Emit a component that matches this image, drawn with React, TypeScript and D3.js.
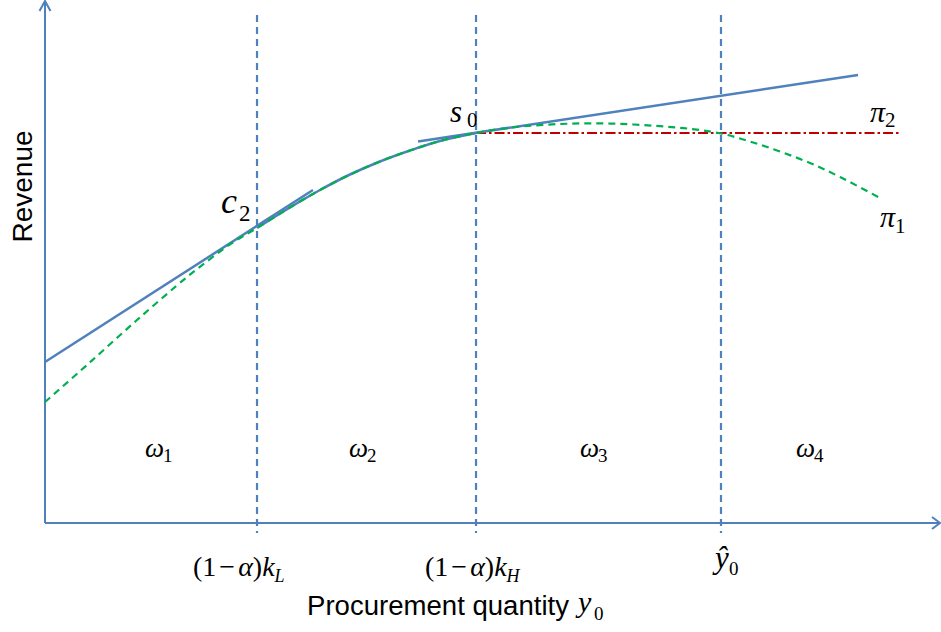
import React from "react";
import * as d3 from "d3";

// ---- data (x: procurement quantity units 0..100, y: revenue units 0..100) ----
const revenueLineLeftX = [0, 29.94];
const revenueLineLeftY = [30.9, 63.92];
const revenueCurveX = [23.69, 27.37, 30.73, 34.08, 37.43, 40.78, 44.13, 48.16];
const revenueCurveY = [56.62, 60.56, 63.92, 66.89, 69.39, 71.5, 73.32, 74.86];
const revenueLineRightX = [41.68, 90.84];
const revenueLineRightY = [73.22, 85.99];

const pi1X = [0, 4.69, 10.28, 15.87, 18.44, 20.89, 23.69, 27.37, 30.73, 34.08, 37.43, 40.78, 44.13, 48.16, 50.84, 53.85, 57.54, 61.23, 65.03, 68.72, 72.07, 75.53, 78.77, 82.12, 85.47, 88.83, 93.3];
const pi1Y = [23.22, 30.33, 38.96, 47.22, 50.67, 53.74, 56.62, 60.56, 63.92, 66.89, 69.39, 71.5, 73.32, 74.86, 75.62, 76.2, 76.58, 76.72, 76.55, 76.16, 75.66, 74.76, 73.22, 71.31, 69.1, 66.41, 62.38];

const pi2X = [48.16, 95.53];
const pi2Y = [74.86, 74.86];

const boundaryX = [23.69, 48.16, 75.53];
const regionLabelX = [11.17, 33.97, 59.78, 83.9];
const regionSubs = ["1", "2", "3", "4"];

const BLUE = "#4F81BD";
const GREEN = "#00B050";
const RED = "#C00000";
const SERIF = "'Liberation Serif', 'Times New Roman', serif";
const SANS = "'Liberation Sans', Arial, sans-serif";

const W = 941;
const H = 632;

const x = d3.scaleLinear().domain([0, 100]).range([45, 940]);
const y = d3.scaleLinear().domain([0, 100]).range([523, 2]);

const zip = (xs: number[], ys: number[]) => xs.map((v, i) => [v, ys[i]] as [number, number]);

const straight = d3.line<[number, number]>().x((d) => x(d[0])).y((d) => y(d[1]));
const smooth = d3
  .line<[number, number]>()
  .x((d) => x(d[0]))
  .y((d) => y(d[1]))
  .curve(d3.curveCatmullRom.alpha(0.5));

export default function App() {
  const x0 = x(0);
  const y0 = y(0);
  return (
    <svg
      width={W}
      height={H}
      viewBox={`0 0 ${W} ${H}`}
      style={{ position: "absolute", left: 0, top: 0, background: "#fff" }}
    >
      <rect x={0} y={0} width={W} height={H} fill="#fff" />

      {/* vertical boundary lines */}
      {boundaryX.map((b, i) => (
        <line
          key={i}
          x1={x(b)}
          x2={x(b)}
          y1={15}
          y2={y0 + 10}
          stroke={BLUE}
          strokeWidth={2.2}
          strokeDasharray="7 5"
        />
      ))}

      {/* axes */}
      <line x1={x0} x2={x0} y1={y0} y2={y(100) - 1} stroke={BLUE} strokeWidth={2} />
      <path
        d={`M${x0 - 5.5},${y(100) + 9} L${x0},${y(100) - 1} L${x0 + 5.5},${y(100) + 9}`}
        fill="none"
        stroke={BLUE}
        strokeWidth={2}
      />
      <line x1={x0} x2={x(100)} y1={y0} y2={y0} stroke={BLUE} strokeWidth={2} />
      <path
        d={`M${x(100) - 8},${y0 - 6} L${x(100)},${y0} L${x(100) - 8},${y0 + 6}`}
        fill="none"
        stroke={BLUE}
        strokeWidth={2}
      />

      {/* pi2 red dash-dot */}
      <path
        d={straight(zip(pi2X, pi2Y)) || ""}
        fill="none"
        stroke={RED}
        strokeWidth={2.2}
        strokeDasharray="10 3 2.5 3"
      />

      {/* revenue blue curve */}
      <path d={straight(zip(revenueLineLeftX, revenueLineLeftY)) || ""} fill="none" stroke={BLUE} strokeWidth={2.5} />
      <path d={smooth(zip(revenueCurveX, revenueCurveY)) || ""} fill="none" stroke={BLUE} strokeWidth={2.5} />
      <path d={straight(zip(revenueLineRightX, revenueLineRightY)) || ""} fill="none" stroke={BLUE} strokeWidth={2.5} />

      {/* pi1 green dashed */}
      <path
        d={smooth(zip(pi1X, pi1Y)) || ""}
        fill="none"
        stroke={GREEN}
        strokeWidth={2.2}
        strokeDasharray="7 5"
      />

      {/* point labels */}
      <text fontFamily={SERIF} fill="#000">
        <tspan x={221} y={213} fontSize={36} fontStyle="italic">c</tspan>
        <tspan x={239} y={221} fontSize={23}>2</tspan>
      </text>
      <text fontFamily={SERIF} fill="#000">
        <tspan x={450} y={122} fontSize={31} fontStyle="italic">s</tspan>
        <tspan x={467} y={127} fontSize={21}>0</tspan>
      </text>
      <text fontFamily={SERIF} fill="#000">
        <tspan x={870} y={122} fontSize={30} fontStyle="italic">π</tspan>
        <tspan x={885} y={127} fontSize={21}>2</tspan>
      </text>
      <text fontFamily={SERIF} fill="#000">
        <tspan x={880} y={227} fontSize={30} fontStyle="italic">π</tspan>
        <tspan x={895} y={233} fontSize={21}>1</tspan>
      </text>

      {/* region labels */}
      {regionLabelX.map((rx, i) => (
        <text key={i} fontFamily={SERIF} fill="#000">
          <tspan x={x(rx)} y={457} fontSize={27} fontStyle="italic">ω</tspan>
          <tspan dx={-1} dy={5} fontSize={19}>{regionSubs[i]}</tspan>
        </text>
      ))}

      {/* boundary tick labels */}
      <text fontFamily={SERIF} fill="#000" fontSize={28}>
        <tspan x={193} y={576}>(1</tspan>
        <tspan dx={3}>−</tspan>
        <tspan dx={3} fontStyle="italic">α</tspan>
        <tspan>)</tspan>
        <tspan fontStyle="italic">k</tspan>
        <tspan dy={6} fontSize={18} fontStyle="italic">L</tspan>
      </text>
      <text fontFamily={SERIF} fill="#000" fontSize={28}>
        <tspan x={425} y={576}>(1</tspan>
        <tspan dx={3}>−</tspan>
        <tspan dx={3} fontStyle="italic">α</tspan>
        <tspan>)</tspan>
        <tspan fontStyle="italic">k</tspan>
        <tspan dy={6} fontSize={18} fontStyle="italic">H</tspan>
      </text>
      <text fontFamily={SERIF} fill="#000">
        <tspan x={715} y={568} fontSize={31} fontStyle="italic">ŷ</tspan>
        <tspan x={729} y={575} fontSize={19}>0</tspan>
      </text>

      {/* axis titles */}
      <text fontFamily={SANS} fill="#000" fontSize={27} x={307} y={615} textLength={262} lengthAdjust="spacingAndGlyphs">
        Procurement quantity
      </text>
      <text fontFamily={SERIF} fill="#000">
        <tspan x={578} y={612} fontSize={30} fontStyle="italic">y</tspan>
        <tspan x={594} y={620} fontSize={19}>0</tspan>
      </text>
      <text
        fontFamily={SANS}
        fill="#000"
        fontSize={28}
        textAnchor="middle"
        transform={`translate(32,186.5) rotate(-90)`}
      >
        Revenue
      </text>
    </svg>
  );
}
